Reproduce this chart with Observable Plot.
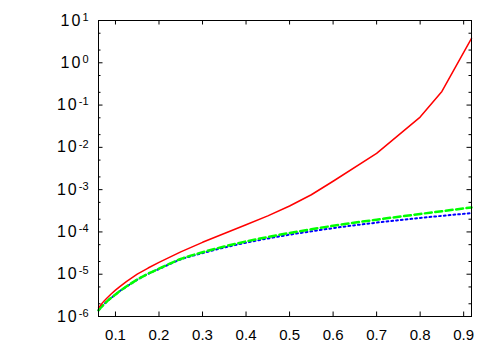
<!DOCTYPE html>
<html>
<head>
<meta charset="utf-8">
<script src="https://cdn.jsdelivr.net/npm/d3@7"></script>
<script src="https://cdn.jsdelivr.net/npm/@observablehq/plot@0.6"></script>
<style>
  html, body { margin: 0; padding: 0; background: #fff; }
  #chart svg { display: block; }
</style>
</head>
<body>
<div id="chart"></div>
<script>
// Data
const xValues = [0.061, 0.065, 0.07, 0.075, 0.08, 0.09, 0.1, 0.11, 0.125, 0.15, 0.175, 0.2, 0.25, 0.3, 0.35, 0.4, 0.45, 0.5, 0.55, 0.6, 0.7, 0.8, 0.85, 0.918];
const redSolid = [1.6e-6, 1.8e-6, 2.1e-6, 2.4e-6, 2.7e-6, 3.4e-6, 4.2e-6, 5.1e-6, 6.7e-6, 1.0e-5, 1.4e-5, 1.9e-5, 3.38e-5, 5.68e-5, 9.2e-5, 1.48e-4, 2.39e-4, 4.11e-4, 7.57e-4, 1.58e-3, 7.2e-3, 5.2e-2, 2.1e-1, 3.8];
const greenDashed = [1.4e-6, 1.56e-6, 1.78e-6, 2.0e-6, 2.25e-6, 2.75e-6, 3.3e-6, 4.0e-6, 5.1e-6, 7.5e-6, 1.03e-5, 1.35e-5, 2.29e-5, 3.31e-5, 4.52e-5, 5.96e-5, 7.59e-5, 9.44e-5, 1.156e-4, 1.396e-4, 1.95e-4, 2.66e-4, 3.09e-4, 3.8e-4];
const blueDotted = [1.4e-6, 1.56e-6, 1.78e-6, 2.0e-6, 2.25e-6, 2.75e-6, 3.3e-6, 4.0e-6, 5.05e-6, 7.4e-6, 1.02e-5, 1.33e-5, 2.24e-5, 3.16e-5, 4.27e-5, 5.56e-5, 7.0e-5, 8.6e-5, 1.035e-4, 1.23e-4, 1.66e-4, 2.14e-4, 2.4e-4, 2.79e-4];

const xTicks = [0.1, 0.2, 0.3, 0.4, 0.5, 0.6, 0.7, 0.8, 0.9];
const yExponents = [-6, -5, -4, -3, -2, -1, 0, 1];
const yMajor = yExponents.map(e => Math.pow(10, e));
const yMinor = yExponents.slice(0, -1).flatMap(e => [2, 5].map(m => m * Math.pow(10, e)));

const width = 500, height = 350;
const mL = 98, mR = 29, mT = 20, mB = 34;
const plotW = width - mL - mR, plotH = height - mT - mB;
const majorLen = 4.5, minorLen = 2.5;

const toRows = ys => xValues.map((x, i) => ({x, y: ys[i]}));

const chart = Plot.plot({
  width, height,
  marginLeft: mL, marginRight: mR, marginTop: mT, marginBottom: mB,
  style: {fontFamily: "'Liberation Sans', Arial, sans-serif", fontSize: "15px", color: "#000", background: "#fff"},
  x: {domain: [0.061, 0.918], label: null},
  y: {type: "log", domain: [1e-6, 10], label: null},
  marks: [
    Plot.axisX({ticks: xTicks, tickSize: 0, tickPadding: 13, tickFormat: d => d.toFixed(1), fontSize: 15, label: null}),
    Plot.axisY({ticks: yMajor, tickSize: 0, tickPadding: 10, tickFormat: d => "10^" + Math.round(Math.log10(d)), fontSize: 16, label: null}),
    // inward ticks on all four sides
    Plot.tickX(xTicks, {x: d => d, insetTop: plotH - majorLen, stroke: "#000"}),
    Plot.tickX(xTicks, {x: d => d, insetBottom: plotH - majorLen, stroke: "#000"}),
    Plot.tickY(yMajor, {y: d => d, insetRight: plotW - majorLen, stroke: "#000"}),
    Plot.tickY(yMajor, {y: d => d, insetLeft: plotW - majorLen, stroke: "#000"}),
    Plot.tickY(yMinor, {y: d => d, insetRight: plotW - minorLen, stroke: "#000"}),
    Plot.tickY(yMinor, {y: d => d, insetLeft: plotW - minorLen, stroke: "#000"}),
    Plot.line(toRows(blueDotted), {x: "x", y: "y", stroke: "#0000ff", strokeWidth: 2, strokeDasharray: "1.8,3", curve: "monotone-x"}),
    Plot.line(toRows(greenDashed), {x: "x", y: "y", stroke: "#00ff00", strokeWidth: 2.5, strokeDasharray: "7,3.5", curve: "monotone-x"}),
    Plot.line(toRows(redSolid), {x: "x", y: "y", stroke: "#ff0000", strokeWidth: 1.5}),
    Plot.frame({stroke: "#000", strokeWidth: 1})
  ]
});

// render exponents as superscripts
d3.select(chart).selectAll("g[aria-label='y-axis tick label'] text").each(function() {
  const t = d3.select(this).text();
  const m = /^10\^(-?\d+)$/.exec(t);
  if (!m) return;
  const sel = d3.select(this);
  sel.text("");
  sel.append("tspan").attr("letter-spacing", "2").text("10");
  sel.append("tspan").attr("dy", "-0.45em").attr("font-size", "11px").text(m[1]);
});

document.getElementById("chart").appendChild(chart);
</script>
</body>
</html>
